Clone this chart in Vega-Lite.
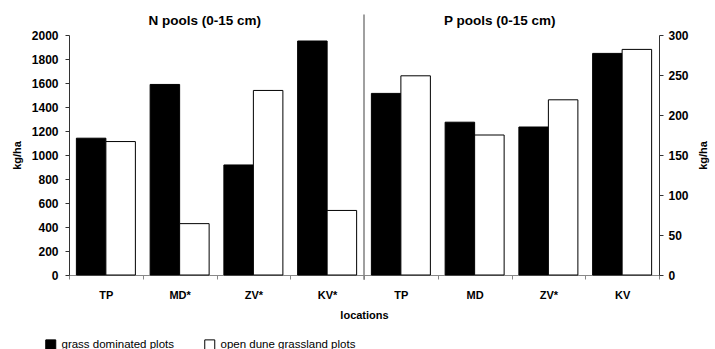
{
  "$schema": "https://vega.github.io/schema/vega-lite/v6.json",
  "width": 590,
  "height": 240,
  "autosize": {"type": "none"},
  "padding": {"left": 69, "top": 35, "right": 56, "bottom": 74},
  "background": "white",
  "config": {
    "font": "Liberation Sans",
    "view": {"stroke": null},
    "axis": {"grid": false, "labelColor": "black", "titleColor": "black", "labelFontWeight": "bold", "titleFontWeight": "bold"},
    "axisY": {"labelOverlap": false}
  },
  "data": {
    "values": [
      {"loc": "1|TP", "pool": "N", "type": "grass dominated plots", "value": 1140},
      {"loc": "1|TP", "pool": "N", "type": "open dune grassland plots", "value": 1112},
      {"loc": "2|MD*", "pool": "N", "type": "grass dominated plots", "value": 1588},
      {"loc": "2|MD*", "pool": "N", "type": "open dune grassland plots", "value": 428},
      {"loc": "3|ZV*", "pool": "N", "type": "grass dominated plots", "value": 917},
      {"loc": "3|ZV*", "pool": "N", "type": "open dune grassland plots", "value": 1538},
      {"loc": "4|KV*", "pool": "N", "type": "grass dominated plots", "value": 1950},
      {"loc": "4|KV*", "pool": "N", "type": "open dune grassland plots", "value": 538},
      {"loc": "5|TP", "pool": "P", "type": "grass dominated plots", "value": 227},
      {"loc": "5|TP", "pool": "P", "type": "open dune grassland plots", "value": 249},
      {"loc": "6|MD", "pool": "P", "type": "grass dominated plots", "value": 191},
      {"loc": "6|MD", "pool": "P", "type": "open dune grassland plots", "value": 175},
      {"loc": "7|ZV*", "pool": "P", "type": "grass dominated plots", "value": 185},
      {"loc": "7|ZV*", "pool": "P", "type": "open dune grassland plots", "value": 219},
      {"loc": "8|KV", "pool": "P", "type": "grass dominated plots", "value": 277},
      {"loc": "8|KV", "pool": "P", "type": "open dune grassland plots", "value": 282}
    ]
  },
  "encoding": {
    "x": {
      "field": "loc",
      "type": "nominal",
      "scale": {"paddingInner": 0, "paddingOuter": 0},
      "axis": {
        "title": "locations",
        "labelExpr": "split(datum.label, '|')[1]",
        "labelAngle": 0,
        "tickBand": "extent",
        "labelFontSize": 11,
        "labelPadding": 10,
        "titleFontSize": 11,
        "titlePadding": 9,
        "tickSize": 4,
        "domainColor": "#888",
        "tickColor": "#888"
      }
    }
  },
  "layer": [
    {
      "transform": [{"filter": "datum.pool == 'N'"}],
      "mark": {"type": "bar", "stroke": "black", "strokeWidth": 1},
      "encoding": {
        "y": {
          "field": "value",
          "type": "quantitative",
          "scale": {"domain": [0, 2000]},
          "axis": {
            "title": "kg/ha",
            "values": [0, 200, 400, 600, 800, 1000, 1200, 1400, 1600, 1800, 2000],
            "format": "d",
            "labelOverlap": false,
            "labelFontSize": 12,
            "labelPadding": 7,
            "tickSize": 4,
            "titleFontSize": 11,
            "titlePadding": 9,
            "domainColor": "#333",
            "tickColor": "#333"
          }
        },
        "xOffset": {"field": "type", "type": "nominal", "scale": {"paddingInner": 0, "paddingOuter": 0.25}},
        "color": {
          "field": "type",
          "type": "nominal",
          "scale": {"domain": ["grass dominated plots", "open dune grassland plots"], "range": ["black", "white"]},
          "legend": {
            "title": null,
            "orient": "none",
            "direction": "horizontal",
            "legendX": -24,
            "legendY": 304,
            "symbolType": "square",
            "symbolSize": 100,
            "symbolStrokeColor": "black",
            "symbolStrokeWidth": 1,
            "labelFontSize": 11.5,
            "labelColor": "black",
            "labelOffset": 5,
            "columnPadding": 27
          }
        }
      }
    },
    {
      "transform": [{"filter": "datum.pool == 'P'"}],
      "mark": {"type": "bar", "stroke": "black", "strokeWidth": 1},
      "encoding": {
        "y": {
          "field": "value",
          "type": "quantitative",
          "scale": {"domain": [0, 300]},
          "axis": {
            "orient": "right",
            "title": "kg/ha",
            "values": [0, 50, 100, 150, 200, 250, 300],
            "labelOverlap": false,
            "labelFontSize": 12,
            "labelPadding": 5,
            "tickSize": 4,
            "titleFontSize": 11,
            "titleAngle": 270,
            "titlePadding": 20,
            "domainColor": "#333",
            "tickColor": "#333"
          }
        },
        "xOffset": {"field": "type", "type": "nominal", "scale": {"paddingInner": 0, "paddingOuter": 0.25}},
        "color": {"field": "type", "type": "nominal"}
      }
    },
    {
      "data": {"values": [{"loc": "2|MD*", "label": "N pools (0-15 cm)"}, {"loc": "6|MD", "label": "P pools (0-15 cm)"}]},
      "mark": {"type": "text", "font": "Liberation Sans", "fontWeight": "bold", "fontSize": 13.5, "baseline": "middle", "align": "center", "color": "black"},
      "encoding": {
        "x": {"field": "loc", "type": "nominal", "bandPosition": 0.84},
        "y": {"datum": 2120, "type": "quantitative", "scale": {"domain": [0, 2000]}, "axis": null},
        "text": {"field": "label"}
      }
    },
    {
      "data": {"values": [{"loc": "5|TP"}]},
      "mark": {"type": "rule", "color": "#808080", "strokeWidth": 1.5},
      "encoding": {
        "x": {"field": "loc", "type": "nominal", "bandPosition": 0},
        "y": {"datum": -40, "type": "quantitative", "scale": {"domain": [0, 2000]}, "axis": null},
        "y2": {"datum": 2170}
      }
    }
  ],
  "resolve": {"scale": {"y": "independent"}, "axis": {"y": "independent"}}
}
